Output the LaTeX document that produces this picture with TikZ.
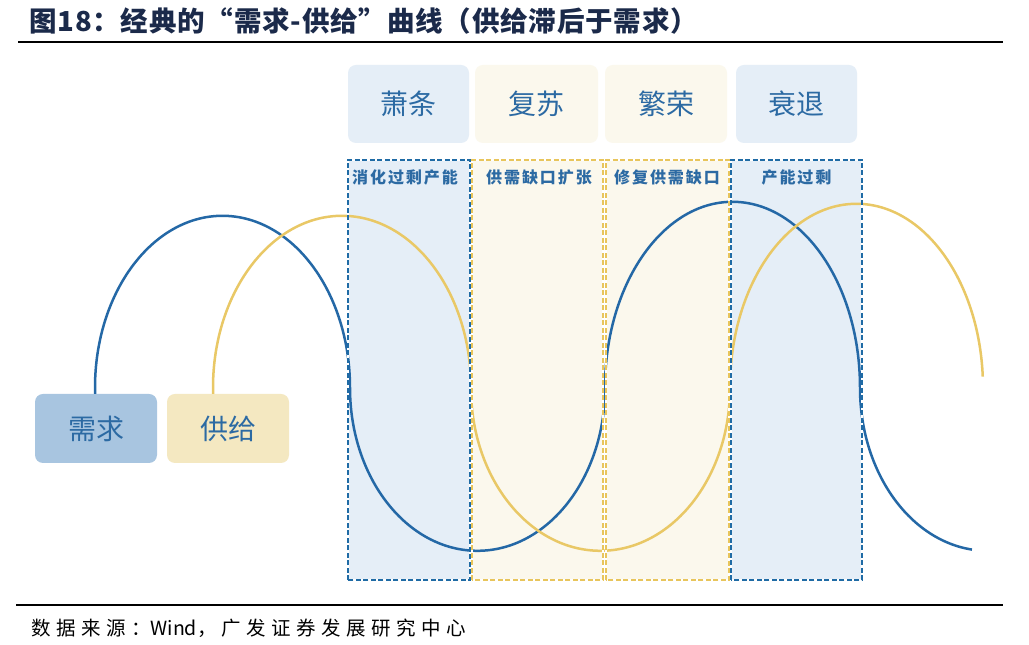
\documentclass[tikz,border=0pt]{standalone}
\usepackage{fontspec}
\newfontfamily\cjk{Noto Sans CJK SC}
\newfontfamily\cjktitle[LetterSpace=3]{Noto Sans CJK SC}
\newfontfamily\cjkls[LetterSpace=12]{Noto Sans CJK SC}
\newfontfamily\cjksrc[LetterSpace=28]{Noto Sans CJK SC}
\definecolor{titlec}{HTML}{1B2A4A}
\definecolor{curveblue}{HTML}{2468A6}
\definecolor{dashblue}{HTML}{1F6BA5}
\definecolor{curveyel}{HTML}{E9C866}
\definecolor{dashyel}{HTML}{E8C55C}
\definecolor{lightblue}{HTML}{E5EEF7}
\definecolor{cream}{HTML}{FBF8ED}
\definecolor{legblue}{HTML}{A8C5E0}
\definecolor{legyel}{HTML}{F4E8C1}
\definecolor{txtblue}{HTML}{2C6AA3}
\begin{document}
\begin{tikzpicture}[x=1pt,y=1pt,
  phase/.style={rounded corners=8pt, minimum height=78pt, inner sep=0pt,
    text=txtblue, font=\cjk\fontsize{28}{32}\selectfont},
  legbox/.style={rounded corners=8pt, minimum width=122pt, minimum height=69pt, inner sep=0pt,
    text=txtblue, font=\cjk\fontsize{28}{32}\selectfont},
  zone/.style={minimum height=420pt, inner sep=0pt},
  zlabel/.style={inner sep=0pt, text=txtblue, font=\cjkls\bfseries\fontsize{16}{19}\selectfont},
  zborder/.style={line width=2pt, dash pattern=on 5pt off 2.5pt},
  zwhite/.style={line width=2.4pt, white},
  bcurve/.style={curveblue, line width=2.5pt},
  ycurve/.style={curveyel, line width=2.5pt}]
\path[use as bounding box] (0,0) rectangle (1029,645);
\fill[white] (0,0) rectangle (1029,645);
% title
\node[anchor=west, text=titlec, inner sep=0pt, font=\cjktitle\bfseries\fontsize{27.5}{31}\selectfont] (title) at (29,624) {图18：经典的“需求-供给”曲线（供给滞后于需求）};
\coordinate (r1a) at (18,603);
\coordinate (r1b) at (1003,603);
\draw[line width=2.5pt] (r1a) -- (r1b);
% phase boxes
\node[phase, fill=lightblue, minimum width=121pt] (p1) at (408.5,541) {萧条};
\node[phase, fill=cream, minimum width=123pt] (p2) at (536.5,541) {复苏};
\node[phase, fill=cream, minimum width=122pt] (p3) at (666,541) {繁荣};
\node[phase, fill=lightblue, minimum width=121pt] (p4) at (796.5,541) {衰退};
% zones (fills)
\node[zone, fill=lightblue, minimum width=122pt] (z1) at (409,275) {};
\node[zone, fill=cream, minimum width=131pt] (z2) at (537.5,275) {};
\node[zone, fill=cream, minimum width=123pt] (z3) at (667.5,275) {};
\node[zone, fill=lightblue, minimum width=131pt] (z4) at (796.5,275) {};
% legend boxes
\node[legbox, fill=legblue] (dem) at (96,216.5) {需求};
\node[legbox, fill=legyel] (sup) at (228,216.5) {供给};
% curves
\draw[bcurve] ([xshift=-1pt]dem.north) -- ++(0,6)
  arc[start angle=180, end angle=0, x radius=127.5pt, y radius=172pt]
  arc[start angle=180, end angle=360, x radius=127.5pt, y radius=163pt]
  arc[start angle=180, end angle=0, x radius=127.5pt, y radius=186pt]
  arc[start angle=180, end angle=263, x radius=127.5pt, y radius=163pt];
\draw[ycurve] ([xshift=-15pt]sup.north) -- ++(0,6)
  arc[start angle=180, end angle=0, x radius=129pt, y radius=172pt]
  arc[start angle=180, end angle=360, x radius=129.5pt, y radius=163pt]
  arc[start angle=180, end angle=3.5, x radius=126.5pt, y radius=184pt];
% zone borders
\foreach \z in {z1,z2,z3,z4}{
  \draw[zwhite] (\z.south west) rectangle (\z.north east);
}
\draw[zborder, dashblue] (z1.south west) rectangle (z1.north east);
\draw[zborder, dashyel] (z2.south west) rectangle (z2.north east);
\draw[zborder, dashyel] (z3.south west) rectangle (z3.north east);
\draw[zborder, dashblue] (z4.south west) rectangle (z4.north east);
% zone labels
\node[zlabel] (l1) at (405,468) {消化过剩产能};
\node[zlabel] (l2) at (539,468) {供需缺口扩张};
\node[zlabel] (l3) at (667,468) {修复供需缺口};
\node[zlabel] (l4) at (796.5,468) {产能过剩};
% bottom rule and source
\coordinate (r2a) at (16,40);
\coordinate (r2b) at (1003,40);
\draw[line width=2pt] (r2a) -- (r2b);
\node[anchor=west, inner sep=0pt, text=black, font=\cjksrc\fontsize{19.5}{22}\selectfont] (src) at (31,17) {数据来源：{\cjk Wind}，广发证券发展研究中心};
\end{tikzpicture}
\end{document}
